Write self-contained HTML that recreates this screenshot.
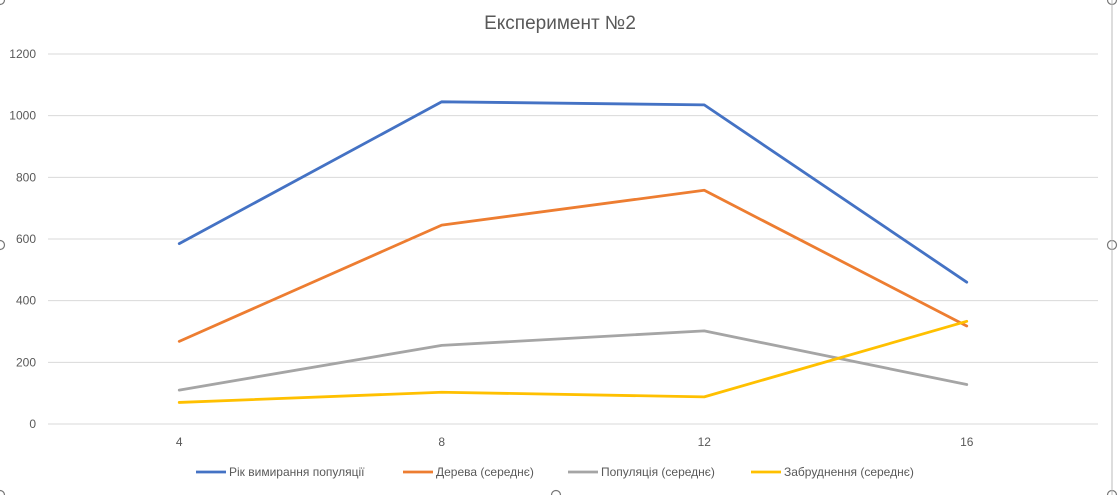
<!DOCTYPE html>
<html><head><meta charset="utf-8"><style>
body{margin:0;background:#fff;width:1120px;height:495px;overflow:hidden;font-family:"Liberation Sans",sans-serif}
</style></head><body>
<svg id="chart" width="1120" height="495" xmlns="http://www.w3.org/2000/svg">
<text x="560" y="29" text-anchor="middle" font-size="19" fill="#595959" font-family="Liberation Sans, sans-serif">Експеримент №2</text>
<g id="grid"></g><g id="series"></g><g id="legend"></g>
<g fill="#fff" stroke="#777" stroke-width="1.2">
<circle cx="0" cy="245" r="4.5"/><circle cx="1112" cy="245" r="4.5"/><circle cx="1112" cy="0" r="4.5"/><circle cx="0" cy="0" r="4.5"/><circle cx="556" cy="495" r="4.5"/><circle cx="0" cy="495" r="4.5"/><circle cx="1112" cy="495" r="4.5"/>
</g>
<line x1="1112" y1="0" x2="1112" y2="495" stroke="#bbb"/>
</svg>
<script>
const categories=["4","8","12","16"];
const seriesNames=["Рік вимирання популяції","Дерева (середнє)","Популяція (середнє)","Забруднення (середнє)"];
const seriesBlue=[585,1045,1035,460];
const seriesOrange=[268,645,758,318];
const seriesGray=[110,255,302,128];
const seriesYellow=[70,103,88,333];
const yTicks=[0,200,400,600,800,1000,1200];
const colors=["#4472C4","#ED7D31","#A5A5A5","#FFC000"];
const NS="http://www.w3.org/2000/svg";
const L=48,R=1098,T=54,B=424,yMax=1200;
const x=i=>L+(R-L)/categories.length*(i+0.5);
const y=v=>B-(B-T)*v/yMax;
function mk(t,a,p){const e=document.createElementNS(NS,t);for(const k in a)e.setAttribute(k,a[k]);p.appendChild(e);return e;}
const grid=document.getElementById('grid');
yTicks.forEach(v=>{
 const l=mk('line',{x1:L,x2:R,y1:y(v),y2:y(v),stroke:'#d9d9d9'},grid);
 
 
 const t=mk('text',{x:36,y:y(v)+4,'text-anchor':'end','font-size':12,fill:'#595959'},grid);t.textContent=v;
 
 
});
categories.forEach((c,i)=>{
 const t=mk('text',{x:x(i),y:446,'text-anchor':'middle','font-size':12,fill:'#595959'},grid);t.textContent=c;
 
 
});
const sg=document.getElementById('series');
[seriesBlue,seriesOrange,seriesGray,seriesYellow].forEach((s,k)=>{
 const p=mk('polyline',{points:s.map((v,i)=>x(i)+','+y(v)).join(' '),fill:'none',stroke:colors[k],'stroke-width':2.8,'stroke-linejoin':'round','stroke-linecap':'round'},sg);
 
 
});
const lg=document.getElementById('legend');
const lx=[196,403,568,751];
seriesNames.forEach((n,k)=>{
 const g=mk('g',{},lg);
 
 
 mk('line',{x1:lx[k],x2:lx[k]+30,y1:472,y2:472,stroke:colors[k],'stroke-width':2.8},g);
 const t=mk('text',{x:lx[k]+33,y:476,'font-size':12,fill:'#595959'},g);t.textContent=n;
});
</script>
</body></html>
